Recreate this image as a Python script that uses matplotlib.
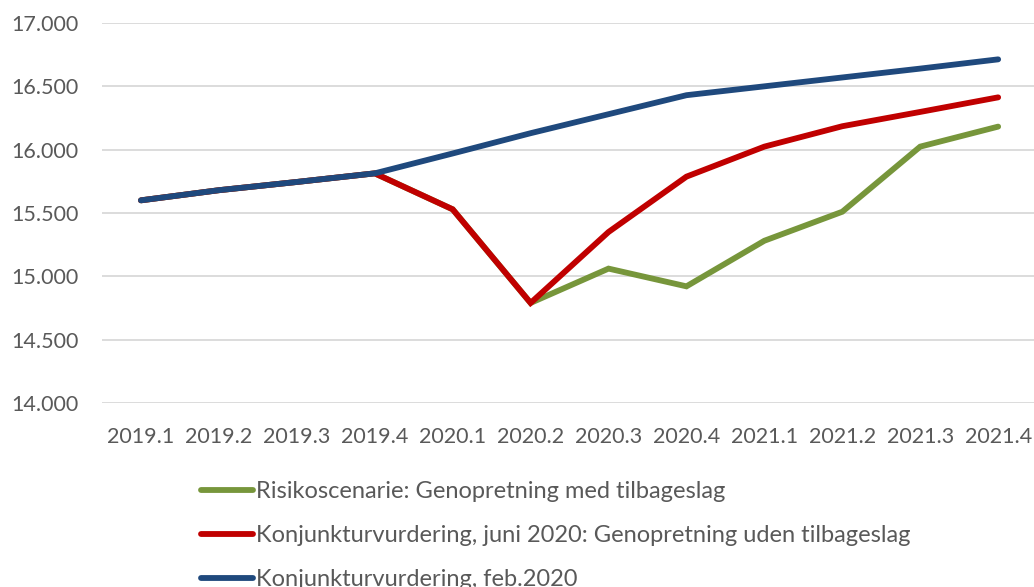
import matplotlib
matplotlib.use("Agg")
import matplotlib.pyplot as plt

plt.rcParams['font.family'] = ['Lato', 'DejaVu Sans']

# Data
quarters = ["2019.1", "2019.2", "2019.3", "2019.4", "2020.1", "2020.2",
            "2020.3", "2020.4", "2021.1", "2021.2", "2021.3", "2021.4"]
feb2020 = [15600, 15680, 15745, 15813, 15970, 16130, 16280, 16430,
           16500, 16570, 16640, 16713]
juni2020 = [15600, 15680, 15745, 15813, 15529, 14790, 15350, 15787,
            16024, 16185, 16298, 16413]
risiko = [15600, 15680, 15745, 15813, 15529, 14790, 15061, 14921,
          15281, 15510, 16024, 16182]

labels = ["Risikoscenarie: Genopretning med tilbageslag",
          "Konjunkturvurdering, juni 2020: Genopretning uden tilbageslag",
          "Konjunkturvurdering, feb.2020"]
colors = ["#77963b", "#c00000", "#1f497d"]
yticks = [14000, 14500, 15000, 15500, 16000, 16500, 17000]

text_col = "#595959"

fig = plt.figure(figsize=(10.34, 5.87), dpi=100)
ax = fig.add_axes([102 / 1034, 1 - 403 / 587, 932 / 1034, 380 / 587])

x = list(range(len(quarters)))
lines = []
for series, col, lab in zip([risiko, juni2020, feb2020], colors, labels):
    ln, = ax.plot(x, series, color=col, lw=4.2, solid_capstyle='round',
                  solid_joinstyle='miter', label=lab)
    lines.append(ln)

ax.set_xlim(-0.5, 11.46)
ax.set_ylim(14000, 17000)
ax.set_yticks(yticks)
ax.set_yticklabels([f"{v:,}".replace(",", ".") for v in yticks])
ax.set_xticks(x)
ax.set_xticklabels(quarters)
ax.grid(axis='y', color='#d9d9d9', lw=1.3)
ax.set_axisbelow(True)
for s in ax.spines.values():
    s.set_visible(False)
ax.tick_params(length=0, colors=text_col, labelsize=15.5)
ax.tick_params(axis='y', pad=17)
ax.tick_params(axis='x', pad=17)

leg = fig.legend(handles=lines, loc='upper left',
                 bbox_to_anchor=(180 / 1034, 1 - 460 / 587),
                 frameon=False, fontsize=17, handlelength=2.2,
                 handletextpad=0.1, labelspacing=0.97)
for t in leg.get_texts():
    t.set_color(text_col)

fig.savefig("out.png", dpi=100)
